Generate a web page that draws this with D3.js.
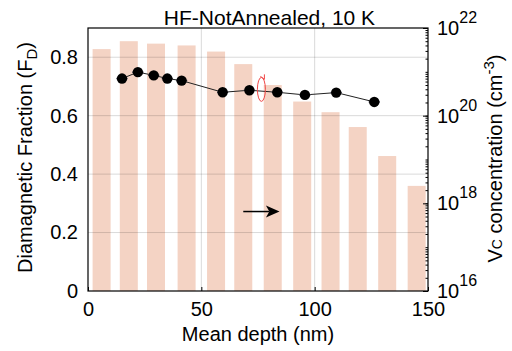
<!DOCTYPE html>
<html>
<head>
<meta charset="utf-8">
<script src="https://cdn.jsdelivr.net/npm/d3@7"></script>
<style>
body { margin: 0; background: #fff; }
text { font-family: "Liberation Sans", Arial, sans-serif; fill: #000; }
</style>
</head>
<body>
<script>
// bars: Vc concentration vs depth (right log axis)
var barDepth = [6, 18, 30, 43.5, 56.5, 68.5, 81.5, 94.5, 107, 119, 132, 145];
var barConc = [3.3e21, 5.0e21, 4.4e21, 4.0e21, 2.9e21, 1.5e21, 5.0e20, 2.1e20, 1.2e20, 5.5e19, 1.2e19, 2.5e18];

// points: diamagnetic fraction
var ptDepth = [15, 22, 29, 35, 41.3, 59.4, 71.2, 83.5, 95.7, 109.5, 126.3];
var ptFrac = [0.727, 0.749, 0.738, 0.727, 0.72, 0.68, 0.687, 0.68, 0.671, 0.679, 0.647];
var ptErr = 2.5;

var xTicks = [0, 50, 100, 150];
var yTicks = [0, 0.2, 0.4, 0.6, 0.8];
var rTicks = [16, 18, 20, 22];

var W = 512, H = 351;
var m = {left: 88, right: 84, top: 28, bottom: 60};

var svg = d3.select("body").append("svg")
	.attr("width", W)
	.attr("height", H);

var x = d3.scaleLinear().domain([0, 150]).range([m.left, W - m.right]);
var y = d3.scaleLinear().domain([0, 0.9]).range([H - m.bottom, m.top]);
var yr = d3.scaleLog().domain([1e16, 1e22]).range([H - m.bottom, m.top]);

// bars
svg.selectAll("rect.bar")
	.data(barConc)
	.enter()
	.append("rect")
	.attr("x", function(d, i) { return x(barDepth[i]) - 9; })
	.attr("width", 18)
	.attr("y", function(d) { return yr(d); })
	.attr("height", function(d) { return yr(1e16) - yr(d); })
	.style("fill", "#f4d3c4");

// grid
svg.selectAll("line.gx")
	.data([50, 100])
	.enter()
	.append("line")
	.attr("x1", function(d) { return x(d); })
	.attr("x2", function(d) { return x(d); })
	.attr("y1", m.top).attr("y2", H - m.bottom)
	.style("stroke", "#000").style("stroke-opacity", 0.15);
svg.selectAll("line.gy")
	.data([0.2, 0.4, 0.6, 0.8])
	.enter()
	.append("line")
	.attr("x1", m.left).attr("x2", W - m.right)
	.attr("y1", function(d) { return y(d); })
	.attr("y2", function(d) { return y(d); })
	.style("stroke", "#000").style("stroke-opacity", 0.15);

// frame
svg.append("rect")
	.attr("x", m.left).attr("y", m.top)
	.attr("width", W - m.left - m.right)
	.attr("height", H - m.top - m.bottom)
	.style("fill", "none").style("stroke", "#000").style("stroke-width", 1.2);

// axes
var xAxis = svg.append("g")
	.attr("transform", "translate(0," + (H - m.bottom) + ")")
	.call(d3.axisBottom(x).tickValues(xTicks).tickSize(-4).tickPadding(11));
var yAxis = svg.append("g")
	.attr("transform", "translate(" + m.left + ",0)")
	.call(d3.axisLeft(y).tickValues(yTicks).tickSize(0).tickPadding(10)
		.tickFormat(function(d) { return d === 0 ? "0" : d3.format(".1f")(d); }));
var minor = [];
for (var e = 16; e < 22; e++) for (var k = 1; k < 10; k++) minor.push(k * Math.pow(10, e));
var rAxisMinor = svg.append("g")
	.attr("transform", "translate(" + (W - m.right) + ",0)")
	.call(d3.axisRight(yr).tickValues(minor).tickSize(-2.5).tickFormat(""));
var rAxis = svg.append("g")
	.attr("transform", "translate(" + (W - m.right) + ",0)")
	.call(d3.axisRight(yr).tickValues(rTicks.map(function(d) { return Math.pow(10, d); }))
		.tickSize(-5).tickFormat(""));

[xAxis, yAxis, rAxisMinor, rAxis].forEach(function(a) {
	a.select(".domain").remove();
	a.selectAll("text").style("font-size", "20px").style("font-family", "Liberation Sans, Arial, sans-serif");
});

// right tick labels with superscripts
var rl = svg.selectAll("text.rl")
	.data(rTicks)
	.enter()
	.append("text")
	.attr("x", W - m.right + 9)
	.attr("y", function(d) { return yr(Math.pow(10, d)) + 7; })
	.style("font-size", "20px");
rl.append("tspan").text("10");
rl.append("tspan").attr("dy", -12).style("font-size", "16px").text(function(d) { return d; });

// line and points
var line = d3.line()
	.x(function(d, i) { return x(ptDepth[i]); })
	.y(function(d) { return y(d); });
svg.append("path")
	.datum(ptFrac)
	.attr("d", line)
	.style("fill", "none").style("stroke", "#222").style("stroke-width", 1);

svg.selectAll("line.err")
	.data(ptFrac)
	.enter()
	.append("line")
	.attr("x1", function(d, i) { return x(ptDepth[i] - ptErr); })
	.attr("x2", function(d, i) { return x(ptDepth[i] + ptErr); })
	.attr("y1", function(d) { return y(d); })
	.attr("y2", function(d) { return y(d); })
	.style("stroke", "#667").style("stroke-width", 1.5);

svg.selectAll("circle.pt")
	.data(ptFrac)
	.enter()
	.append("circle")
	.attr("cx", function(d, i) { return x(ptDepth[i]); })
	.attr("cy", function(d) { return y(d); })
	.attr("r", 5.2)
	.style("fill", "#000");

// red loop arrow pointing to left axis data
var rx = x(76.5), ry = y(0.69);
svg.append("ellipse")
	.attr("cx", rx).attr("cy", ry)
	.attr("rx", 4).attr("ry", 12)
	.style("fill", "none").style("stroke", "#f04848").style("stroke-width", 1);
svg.append("path")
	.attr("d", "M" + (rx - 1) + "," + (ry - 13) + " L" + (rx + 3) + "," + (ry - 10) + " L" + (rx + 3) + "," + (ry - 15))
	.style("fill", "none").style("stroke", "#f04848").style("stroke-width", 1);

// black arrow pointing to right axis
var ay = yr(6.5e17);
svg.append("line")
	.attr("x1", x(68.5)).attr("x2", x(80))
	.attr("y1", ay).attr("y2", ay)
	.style("stroke", "#000").style("stroke-width", 1.5);
svg.append("path")
	.attr("d", "M" + x(84.5) + "," + ay + " L" + x(78.5) + "," + (ay - 6) + " L" + x(80) + "," + ay + " L" + x(78.5) + "," + (ay + 6) + "Z")
	.style("fill", "#000");

// titles
svg.append("text")
	.attr("x", 269.5).attr("y", 25)
	.attr("text-anchor", "middle")
	.style("font-size", "21px")
	.text("HF-NotAnnealed, 10 K");

svg.append("text")
	.attr("x", (m.left + W - m.right) / 2).attr("y", H - 10)
	.attr("text-anchor", "middle")
	.style("font-size", "20px")
	.text("Mean depth (nm)");

var yl = svg.append("text")
	.attr("transform", "translate(32," + ((m.top + H - m.bottom) / 2 - 2) + ") rotate(-90)")
	.attr("text-anchor", "middle")
	.style("font-size", "20px");
yl.append("tspan").text("Diamagnetic Fraction (F");
yl.append("tspan").attr("dy", 5).style("font-size", "15px").text("D");
yl.append("tspan").attr("dy", -5).text(")");

var rlab = svg.append("text")
	.attr("transform", "translate(502," + ((m.top + H - m.bottom) / 2 - 1) + ") rotate(-90)")
	.attr("text-anchor", "middle")
	.style("font-size", "20px");
rlab.append("tspan").text("V");
rlab.append("tspan").style("font-size", "14px").text("C");
rlab.append("tspan").text(" concentration (cm");
rlab.append("tspan").attr("dy", -8).style("font-size", "15px").text("-3");
rlab.append("tspan").attr("dy", 8).text(")");
</script>
</body>
</html>
